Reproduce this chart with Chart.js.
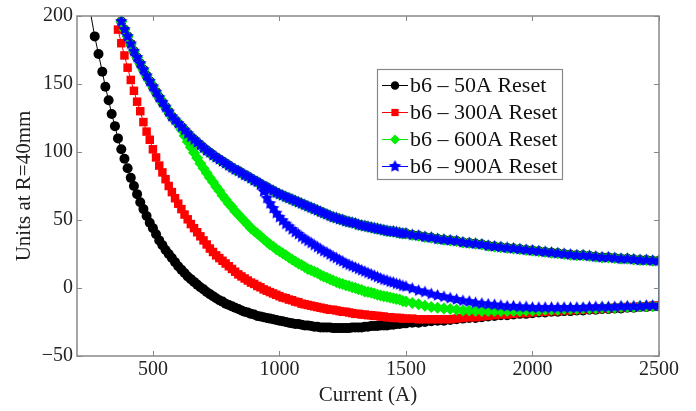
<!DOCTYPE html>
<html>
<head>
<meta charset="utf-8">
<script src="https://cdn.jsdelivr.net/npm/chart.js@4.4.0/dist/chart.umd.min.js"></script>
<style>
  html, body { margin: 0; padding: 0; background: #fff; }
  #wrap { width: 696px; height: 411px; position: relative; }
</style>
</head>
<body>
<div id="wrap"><canvas id="chart"></canvas></div>
<script>
const xTicks = [500, 1000, 1500, 2000, 2500];
const yTicks = [-50, 0, 50, 100, 150, 200];
const seriesNames = ['b6 \u2013 50A Reset', 'b6 \u2013 300A Reset', 'b6 \u2013 600A Reset', 'b6 \u2013 900A Reset'];
const seriesColors = ['#000000', '#ff0000', '#00ee00', '#0000ff'];
const hasReturn = [true, false, true, true];

// measured currents (A), shared by all curves from 375 A up
const currentGrid = [375, 387.5, 400, 412.5, 425, 437.5, 450, 462.5, 475, 487.5,
  500, 512.5, 525, 537.5, 550, 562.5, 575, 587.5, 600, 612.5,
  625, 637.5, 650, 662.5, 675, 687.5, 700, 712.5, 725, 737.5,
  750, 762.5, 775, 787.5, 800, 812.5, 825, 837.5, 850, 862.5,
  875, 887.5, 900, 912.5, 925, 937.5, 950, 962.5, 975, 987.5,
  1000, 1012.5, 1025, 1037.5, 1050, 1062.5, 1075, 1087.5, 1100, 1112.5,
  1125, 1137.5, 1150, 1162.5, 1175, 1187.5, 1200, 1212.5, 1225, 1237.5,
  1250, 1262.5, 1275, 1287.5, 1300, 1312.5, 1325, 1337.5, 1350, 1362.5,
  1375, 1387.5, 1400, 1412.5, 1425, 1437.5, 1450, 1462.5, 1475, 1487.5, 1500,
  1525, 1550, 1575, 1600, 1625, 1650, 1675, 1700, 1725, 1750,
  1775, 1800, 1825, 1850, 1875, 1900, 1925, 1950, 1975, 2000,
  2025, 2050, 2075, 2100, 2125, 2150, 2175, 2200, 2225, 2250,
  2275, 2300, 2325, 2350, 2375, 2400, 2425, 2450, 2475, 2500];

// ramp up after 50 A reset (first points below 375 A listed separately)
const reset50Head = [250, 270, 285, 300, 312, 325, 337, 350, 362];
const reset50Units = [206, 185, 172, 159, 148, 138, 128, 119, 110,
  102, 95, 88, 81, 75, 69, 63, 58, 53, 48, 44,
  39.5, 35, 31.5, 28, 25, 22, 19, 16, 13.5, 11,
  8.5, 6.5, 4.5, 2.5, 0.5, -1, -3, -4.5, -6, -7.5,
  -9, -10, -11.5, -12.5, -13.5, -14.5, -15.5, -16.5, -17.5, -18,
  -19, -19.5, -20.5, -21, -21.5, -22, -22.5, -23, -23.5, -24,
  -24.5, -25, -25.5, -26, -26.5, -26.5, -27, -27.5, -27.5, -28,
  -28.5, -28.5, -29, -29, -29, -29, -29.5, -29.5, -29.5, -29.5,
  -29.5, -29.5, -29, -29, -29, -29, -28.5, -28.5, -28, -28,
  -28, -27.5, -27.5, -27.5, -27, -27, -26.5, -26.5, -26, -26,
  -25.5, -25.5, -25, -24.5, -24, -24, -23.5, -23, -22.5, -22,
  -22, -21.5, -21, -20.5, -20, -20, -19.5, -19, -19, -18.5,
  -18, -18, -17.5, -17.5, -17, -17, -16.5, -16.5, -16, -16,
  -15.5, -15.5, -15, -15, -14.5, -14.5, -14, -14, -13.5, -13.5];

// ramp up after 300 A reset
const reset300Head = [362];
const reset300Units = [190,
  180, 171, 162, 153, 145, 137, 130, 122, 115, 109, 102, 96, 90,
  85, 80, 75, 70.5, 66, 62, 58, 54, 50.5, 47,
  44, 41, 38, 35, 32, 29, 26.5, 24, 22, 20,
  18, 16, 14, 12, 10, 8.5, 7, 5.5, 4, 3,
  1.5, 0.5, -1, -2, -3, -4, -5, -6, -7, -7.5,
  -8.5, -9, -10, -10.5, -11.5, -12, -12.5, -13, -13.5, -14,
  -14.5, -15, -15.5, -16, -16, -16.5, -17, -17.5, -17.5, -18,
  -18.5, -19, -19, -19.5, -19.5, -20, -20, -20.5, -20.5, -21,
  -21, -21.5, -21.5, -22, -22, -22, -22.5, -22.5,
  -22.5, -23, -23, -23, -23, -23, -23, -22.5, -22, -21.5,
  -21.5, -21, -20.5, -20, -19.5, -19.5, -19, -18.5, -18.5, -18,
  -17.5, -17.5, -17, -17, -16.5, -16.5, -16, -16, -15.5, -15.5,
  -15, -15, -14.5, -14.5, -14, -14, -13.5, -13.5, -13, -13];

// ramp up after 600 A reset (from 600 A)
const reset600Start = 600;
const reset600Units = [121, 116.5, 112, 107.5, 103.5, 99.5, 95.5, 91.5, 88, 84.5,
  81, 78, 74.5, 71.5, 68, 65, 62, 59.5, 56.5, 54,
  51.5, 49, 46.5, 44, 42, 40, 38, 36, 34, 32,
  30.5, 28.5, 27, 25.5, 24, 22.5, 21, 19.5, 18, 17,
  15.5, 14, 13, 12, 11, 9.5, 8.5, 7.5, 6.5, 5.5,
  4.5, 3.5, 3, 2, 1.5, 0.5, 0, -1, -1.5, -2.5,
  -3, -3.5, -4, -5, -5.5, -6, -6.5, -7, -7.5, -8,
  -8.5, -9.5, -10,
  -11, -12, -13, -14, -14.5, -15, -15.5, -16, -16.5, -16.5,
  -17, -17, -17, -17, -17, -17, -17, -17, -16.5, -16.5,
  -16.5, -16, -16, -16, -15.5, -15.5, -15.5, -15, -15, -15,
  -14.5, -14.5, -14.5, -14, -14, -14, -13.5, -13.5, -13.5, -13];

// ramp up after 900 A reset (from 925 A)
const reset900Start = 925;
const reset900Units = [76, 71, 66, 62, 58.5, 55, 52, 49.5, 47, 45,
  43, 41, 39.5, 37.5, 36, 34.5, 33, 31.5, 30, 28.5,
  27, 26, 24.5, 23, 22, 20.5, 19.5, 18, 17, 16,
  15, 14, 13, 12, 11, 10, 9, 8, 7, 6,
  5.5, 4.5, 4, 3, 2.5, 1.5, 1,
  -0.5, -2, -3, -4.5, -5.5, -6.5, -7.5, -8.5, -9.5, -10,
  -11, -11.5, -12, -12.5, -13, -13.5, -13.5, -14, -14, -14.5,
  -14.5, -14.5, -14.5, -14.5, -14.5, -14.5, -14.5, -14.5, -14, -14,
  -14, -14, -14, -13.5, -13.5, -13.5, -13.5, -13, -13, -13];

// common ramp-down branch from 2500 A back to 375 A (listed on currentGrid)
const returnUnits = [196, 190, 185, 179.5, 174, 169.5, 165, 160.5, 156, 152,
  148, 144, 140, 136.5, 133, 129.5, 126, 123.5, 121, 118.5,
  116, 113.5, 111, 109, 107, 105, 103, 101, 99.5, 97.5,
  96, 94.5, 93, 91.5, 90, 88.5, 87, 86, 84.5, 83,
  82, 80.5, 79, 78, 76.5, 75, 74, 72.5, 71.5, 70,
  69, 68, 67, 66, 65, 64, 63, 62, 61, 60,
  59, 58, 57, 56, 55, 54, 53, 52, 51.5, 50.5,
  50, 49, 48.5, 48, 47.5, 46.5, 46, 45.5, 45, 44.5,
  44, 43.5, 43, 42.5, 42, 41.5, 41.5, 41, 40.5, 40, 40,
  39, 38.5, 37.5, 37, 36, 35.5, 35, 34.5, 33.5, 33,
  32.5, 32, 31, 30.5, 30, 29.5, 29, 28.5, 28, 27.5,
  27, 26.5, 26, 25.5, 25, 24.5, 24, 24, 23.5, 23,
  22.5, 22.5, 22, 21.5, 21.5, 21, 20.5, 20.5, 20, 20];

const rampCurrents = [
    reset50Head.concat(currentGrid),
    reset300Head.concat(currentGrid),
    currentGrid.filter(c => c >= reset600Start),
    currentGrid.filter(c => c >= reset900Start)
];
const rampUnits = [reset50Units, reset300Units, reset600Units, reset900Units];

function makeStar(color, r) {
    const size = Math.ceil(r * 2) + 2;
    const c = document.createElement('canvas');
    c.width = size;
    c.height = size;
    const g = c.getContext('2d');
    g.fillStyle = color;
    g.beginPath();
    for (let i = 0; i < 10; i++) {
        const rr = i % 2 ? r * 0.5 : r;
        const a = -Math.PI / 2 + i * Math.PI / 5;
        g.lineTo(size / 2 + rr * Math.cos(a), size / 2 + rr * Math.sin(a));
    }
    g.closePath();
    g.fill();
    return c;
}

const starMarker = makeStar('#0000ff', 6.5);
const markerStyles = ['circle', 'rect', 'rectRot', starMarker];
const markerRadius = [5, 6, 6, 6.5];

function buildPoints(i) {
    const pts = rampCurrents[i].map((x, k) => ({x: x, y: rampUnits[i][k]}));
    if (hasReturn[i]) {
        for (let k = currentGrid.length - 1; k >= 0; k--) {
            pts.push({x: currentGrid[k], y: returnUnits[k]});
        }
    }
    return pts;
}

const datasets = seriesNames.map((name, i) => ({
    label: name,
    data: buildPoints(i),
    showLine: true,
    borderColor: seriesColors[i],
    borderWidth: 1,
    pointStyle: markerStyles[i],
    pointRadius: markerRadius[i],
    pointBackgroundColor: seriesColors[i],
    pointBorderColor: seriesColors[i],
    pointBorderWidth: 0,
    order: 4 - i
}));

const serif = 'Liberation Serif, Times New Roman, serif';

function drawMarker(ctx, i, x, y) {
    const r = markerRadius[i] * 0.85;
    ctx.fillStyle = seriesColors[i];
    ctx.beginPath();
    if (i === 0) {
        ctx.arc(x, y, r, 0, Math.PI * 2);
    } else if (i === 1) {
        const s = Math.SQRT1_2 * r;
        ctx.rect(x - s, y - s, 2 * s, 2 * s);
    } else if (i === 2) {
        ctx.moveTo(x - r, y);
        ctx.lineTo(x, y - r);
        ctx.lineTo(x + r, y);
        ctx.lineTo(x, y + r);
        ctx.closePath();
    } else {
        ctx.drawImage(starMarker, x - starMarker.width / 2, y - starMarker.height / 2);
        return;
    }
    ctx.fill();
}

const framePlugin = {
    id: 'frame',
    afterDatasetsDraw(chart) {
        const ctx = chart.ctx;
        const {left, right, top, bottom} = chart.chartArea;
        const xs = chart.scales.x;
        const ys = chart.scales.y;
        ctx.save();
        ctx.strokeStyle = '#888888';
        ctx.lineWidth = 1.5;
        ctx.strokeRect(left, top, right - left, bottom - top);
        ctx.beginPath();
        xTicks.forEach(v => {
            const px = Math.round(xs.getPixelForValue(v)) + 0.5;
            ctx.moveTo(px, bottom); ctx.lineTo(px, bottom - 5);
            ctx.moveTo(px, top); ctx.lineTo(px, top + 5);
        });
        yTicks.forEach(v => {
            const py = Math.round(ys.getPixelForValue(v)) + 0.5;
            ctx.moveTo(left, py); ctx.lineTo(left + 5, py);
            ctx.moveTo(right, py); ctx.lineTo(right - 5, py);
        });
        ctx.lineWidth = 1;
        ctx.stroke();
        ctx.restore();
    },
    afterDraw(chart) {
        const ctx = chart.ctx;
        const bx = 377, by = 69, bw = 185, bh = 110;
        ctx.save();
        ctx.fillStyle = '#ffffff';
        ctx.fillRect(bx, by, bw, bh);
        ctx.strokeStyle = '#888888';
        ctx.lineWidth = 1.2;
        ctx.strokeRect(bx + 0.5, by + 0.5, bw, bh);
        ctx.font = '22px ' + serif;
        ctx.textBaseline = 'middle';
        seriesNames.forEach((name, i) => {
            const y = 85 + i * 27;
            ctx.strokeStyle = seriesColors[i];
            ctx.lineWidth = 1;
            ctx.beginPath();
            ctx.moveTo(382, y + 0.5);
            ctx.lineTo(408, y + 0.5);
            ctx.stroke();
            drawMarker(ctx, i, 395, y + 0.5);
            ctx.fillStyle = '#111111';
            ctx.fillText(name, 410, y + 1);
        });
        ctx.restore();
    }
};

new Chart(document.getElementById('chart'), {
    type: 'scatter',
    data: {datasets: datasets},
    options: {
        responsive: true,
        maintainAspectRatio: false,
        animation: false,
        devicePixelRatio: 1,
        events: [],
        layout: {padding: {left: 0, right: 37, top: 14, bottom: 0}},
        plugins: {
            legend: {display: false},
            tooltip: {enabled: false}
        },
        scales: {
            x: {
                type: 'linear',
                min: 200,
                max: 2500,
                afterBuildTicks: axis => { axis.ticks = xTicks.map(v => ({value: v})); },
                afterFit: axis => { axis.height = 55; },
                grid: {display: false, drawTicks: false},
                border: {display: false},
                ticks: {color: '#222', font: {family: serif, size: 20}, padding: 2,
                    callback: v => String(v)},
                title: {display: true, text: 'Current (A)', color: '#222', font: {family: serif, size: 21}, padding: {top: 0, bottom: 3}}
            },
            y: {
                type: 'linear',
                min: -50,
                max: 200,
                afterBuildTicks: axis => { axis.ticks = yTicks.map(v => ({value: v})); },
                afterFit: axis => { axis.width = 77; },
                grid: {display: false, drawTicks: false},
                border: {display: false},
                ticks: {color: '#222', font: {family: serif, size: 20}, padding: 4,
                    callback: v => v < 0 ? '\u2212' + (-v) : String(v)},
                title: {display: true, text: 'Units at R=40mm', color: '#222', font: {family: serif, size: 21}, padding: {top: 12, bottom: 0}}
            }
        }
    },
    plugins: [framePlugin]
});
</script>
</body>
</html>
